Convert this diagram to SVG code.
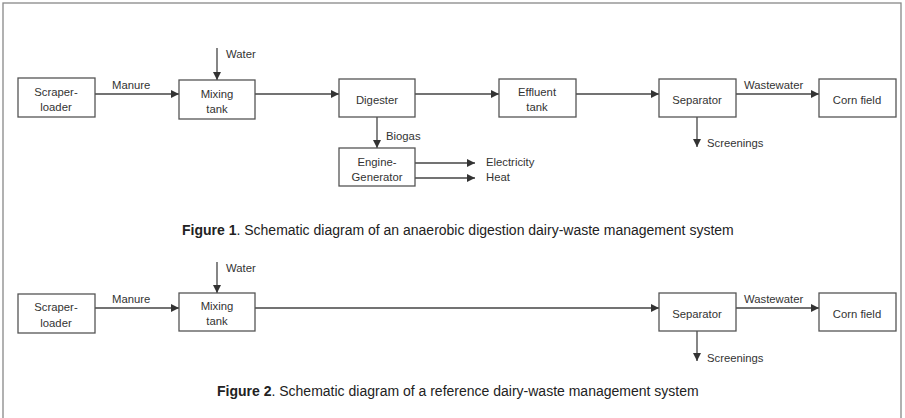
<svg xmlns="http://www.w3.org/2000/svg" width="905" height="418" viewBox="0 0 905 418">
<defs>
<marker id="ah" markerWidth="9" markerHeight="9" refX="8" refY="4" orient="auto" markerUnits="userSpaceOnUse">
<path d="M0,0 L8,4 L0,8 Z" fill="#333"/>
</marker>
</defs>
<style>
.box{fill:#fff;stroke:#555;stroke-width:1.3}
.ln{fill:none;stroke:#444;stroke-width:1.3;marker-end:url(#ah)}
text{font-family:"Liberation Sans",Arial,sans-serif;font-size:11.3px;fill:#333}
.c{text-anchor:middle}
.cap{font-size:14px;fill:#222}
</style>
<rect x="0" y="0" width="905" height="418" fill="#fff"/>
<rect x="3" y="3" width="898" height="420" fill="none" stroke="#888" stroke-width="1.3"/>

<g id="connectors">
<line class="ln" x1="95" y1="94" x2="179" y2="94"/>
<line class="ln" x1="217" y1="48" x2="217" y2="80"/>
<line class="ln" x1="255" y1="94" x2="339" y2="94"/>
<line class="ln" x1="415" y1="94" x2="499" y2="94"/>
<line class="ln" x1="576" y1="94" x2="659" y2="94"/>
<line class="ln" x1="736" y1="94" x2="819" y2="94"/>
<line class="ln" x1="377" y1="117" x2="377" y2="148"/>
<line class="ln" x1="415" y1="163" x2="475" y2="163"/>
<line class="ln" x1="415" y1="178" x2="475" y2="178"/>
<line class="ln" x1="697" y1="117" x2="697" y2="147"/>

<line class="ln" x1="95" y1="308" x2="179" y2="308"/>
<line class="ln" x1="217" y1="262" x2="217" y2="293"/>
<line class="ln" x1="255" y1="308" x2="659" y2="308"/>
<line class="ln" x1="736" y1="308" x2="819" y2="308"/>
<line class="ln" x1="697" y1="331" x2="697" y2="361"/>

<text x="112" y="89">Manure</text>
<text x="226" y="58">Water</text>
<text x="386" y="140">Biogas</text>
<text x="486" y="166">Electricity</text>
<text x="486" y="181">Heat</text>
<text x="744" y="89">Wastewater</text>
<text x="707" y="147">Screenings</text>

<text x="112" y="303">Manure</text>
<text x="226" y="272">Water</text>
<text x="744" y="303">Wastewater</text>
<text x="707" y="362">Screenings</text>
</g>

<g id="f1-scraper"><rect class="box" x="18" y="78" width="77" height="39"/><text class="c" x="56" y="96">Scraper-</text><text class="c" x="56" y="111">loader</text></g>
<g id="f1-mixing"><rect class="box" x="179" y="80" width="76" height="39"/><text class="c" x="217" y="98">Mixing</text><text class="c" x="217" y="113">tank</text></g>
<g id="f1-digester"><rect class="box" x="339" y="79" width="76" height="38"/><text class="c" x="377" y="104">Digester</text></g>
<g id="f1-engine"><rect class="box" x="339" y="148" width="76" height="38"/><text class="c" x="377" y="166">Engine-</text><text class="c" x="377" y="181">Generator</text></g>
<g id="f1-effluent"><rect class="box" x="499" y="79" width="77" height="38"/><text class="c" x="537" y="96">Effluent</text><text class="c" x="537" y="111">tank</text></g>
<g id="f1-separator"><rect class="box" x="659" y="79" width="77" height="38"/><text class="c" x="697" y="104">Separator</text></g>
<g id="f1-corn"><rect class="box" x="819" y="79" width="77" height="38"/><text class="c" x="857" y="104">Corn field</text></g>

<text class="cap" x="182" y="235"><tspan font-weight="bold">Figure 1</tspan>. Schematic diagram of an anaerobic digestion dairy-waste management system</text>

<g id="f2-scraper"><rect class="box" x="18" y="294" width="77" height="39"/><text class="c" x="56" y="311">Scraper-</text><text class="c" x="56" y="327">loader</text></g>
<g id="f2-mixing"><rect class="box" x="179" y="293" width="76" height="38"/><text class="c" x="217" y="310">Mixing</text><text class="c" x="217" y="325">tank</text></g>
<g id="f2-separator"><rect class="box" x="659" y="293" width="77" height="38"/><text class="c" x="697" y="318">Separator</text></g>
<g id="f2-corn"><rect class="box" x="819" y="293" width="77" height="38"/><text class="c" x="857" y="318">Corn field</text></g>

<text class="cap" x="217" y="396"><tspan font-weight="bold">Figure 2</tspan>. Schematic diagram of a reference dairy-waste management system</text>
</svg>
